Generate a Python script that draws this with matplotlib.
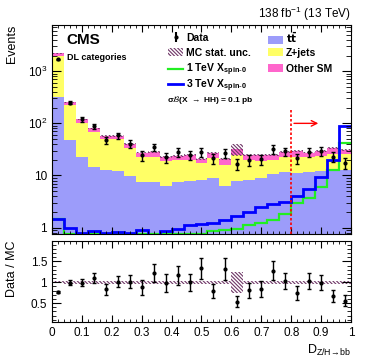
import numpy as np
import matplotlib
matplotlib.use("Agg")
import matplotlib.pyplot as plt
from matplotlib.patches import Patch
from matplotlib.lines import Line2D
from matplotlib.ticker import MultipleLocator, FixedLocator, LogLocator, NullFormatter

plt.rcParams['font.family'] = ['Liberation Sans', 'DejaVu Sans']
plt.rcParams['mathtext.default'] = 'regular'
plt.rcParams['hatch.linewidth'] = 0.8

# 25 bins of D_{Z/H->bb}
edges = np.linspace(0, 1, 26)
centers = 0.5 * (edges[:-1] + edges[1:])

ttbar = [316, 47, 23, 14.5, 13, 12, 9.6, 7.4, 7.4, 6.3, 7.4, 8.0, 8.3,
         8.8, 6.4, 7.8, 8.3, 9.0, 10.8, 11.6, 11.1, 11.6, 12.1, 12.5, 13.0]
zjets = [1634, 183, 79, 54.5, 37, 38, 24.4, 15.1, 15.6, 12.7, 12.1, 12.0, 8.7,
         13.2, 9.6, 17.2, 11.2, 10.0, 9.2, 11.4, 11.4, 10.9, 11.9, 13.5, 13.0]
other = [250, 22, 18, 11, 8, 8, 6, 5, 5.5, 4, 4.5, 5, 4,
         5, 4.5, 6.5, 5, 5.5, 5, 5, 6.5, 5, 5.5, 8, 5]
mc_unc_rel = [0.02, 0.03, 0.03, 0.035, 0.04, 0.04, 0.04, 0.04, 0.04, 0.04, 0.04, 0.04, 0.04,
              0.04, 0.04, 0.25, 0.04, 0.04, 0.04, 0.04, 0.04, 0.04, 0.04, 0.04, 0.04]

data = [1700, 250, 119, 88, 48, 58.5, 40.5, 24.2, 35, 22.5, 28, 25, 28,
        21.3, 27, 16.7, 19.8, 20.6, 32, 29, 21.5, 28.3, 29.2, 22.8, 17.4]
data_err = [41, 16, 11, 9.4, 7, 7.7, 6.4, 5, 6, 4.8, 5.3, 5, 5.3,
            4.6, 5.2, 4.1, 4.5, 4.5, 5.7, 5.4, 4.6, 5.3, 5.4, 4.8, 4.2]

sig_1tev = [1.45, 0.75, 0.75, 0.75, 0.75, 0.75, 0.75, 0.75, 0.75, 0.75, 0.75, 0.75, 0.75,
            0.87, 0.9, 0.95, 1.1, 1.2, 1.4, 1.8, 3.0, 3.7, 5.9, 12.7, 42]
sig_3tev = [1.43, 0.97, 0.78, 0.85, 0.78, 0.83, 0.8, 0.9, 0.72, 0.85, 0.95, 1.1, 1.15,
            1.25, 1.4, 1.65, 2.0, 2.45, 2.8, 3.1, 4.0, 5.6, 9.4, 20, 88]

c_tt = '#9c9cfa'
c_z = '#ffff66'
c_other = '#ff66cc'
c_hatch = '#6e3566'
c_green = '#22ee22'
c_blue = '#0000ff'
HATCH = '\\' * 9

ttbar = np.array(ttbar)
zjets = np.array(zjets)
other = np.array(other)
data = np.array(data)
data_err = np.array(data_err)
s1 = ttbar
s2 = s1 + zjets
total = s2 + other
unc = total * np.array(mc_unc_rel)

fig = plt.figure(figsize=(3.74, 3.59), dpi=100)
ax = fig.add_axes([0.139, 0.348, 0.7995, 0.583])
ax2 = fig.add_axes([0.139, 0.1022, 0.7995, 0.2265])

ax.stairs(s1, edges, baseline=1e-3, fill=True, color=c_tt, lw=0)
ax.stairs(s2, edges, baseline=s1, fill=True, color=c_z, lw=0)
ax.stairs(total, edges, baseline=s2, fill=True, color=c_other, lw=0)
ax.stairs(total + unc, edges, baseline=total - unc, fill=False, hatch=HATCH,
          edgecolor=c_hatch, lw=0)
ax.stairs(sig_1tev, edges, baseline=None, color=c_green, lw=1.6)
ax.stairs(sig_3tev, edges, baseline=None, color=c_blue, lw=2.0)
ax.errorbar(centers, data, yerr=data_err, fmt='o', color='black', ms=2,
            elinewidth=1.0, capsize=1.2, capthick=1.0)

ax.set_yscale('log')
ax.set_xlim(0, 1)
ax.set_ylim(0.75, 7800)
ax.vlines(0.8, 0.75, 200, colors='red', linestyles=(0, (1.5, 1.2)), lw=1.2)
ax.annotate('', xy=(0.9, 100), xytext=(0.8, 100),
            arrowprops=dict(arrowstyle='->', color='red', lw=1.0, mutation_scale=10))

ax.yaxis.set_major_locator(FixedLocator([1, 10, 100, 1000]))
ax.set_yticklabels(['1', '10', '$10^2$', '$10^3$'])
ax.yaxis.set_minor_locator(LogLocator(base=10, subs=np.arange(2, 10)))
ax.yaxis.set_minor_formatter(NullFormatter())
for a in (ax, ax2):
    a.xaxis.set_major_locator(MultipleLocator(0.1))
    a.xaxis.set_minor_locator(MultipleLocator(0.02))
    a.tick_params(which='both', direction='in', top=True, right=True, labelsize=8.5)
    a.tick_params(axis='x', which='major', length=5)
    a.tick_params(axis='x', which='minor', length=2.5)
ax.tick_params(axis='y', which='major', length=6.5)
ax.tick_params(axis='y', which='minor', length=3.5)
ax.tick_params(labelbottom=False)

ax.set_ylabel('Events', fontsize=9, loc='top')
ax.yaxis.set_label_coords(-0.115, 1.0)

# legend: one entry per row, placed in figure pixels
def entry(handle, label, x_px, y_px):
    leg = fig.legend([handle], [label], loc='center left',
                     bbox_to_anchor=(x_px / 374, 1 - y_px / 359),
                     bbox_transform=fig.transFigure, frameon=False,
                     prop={'weight': 'bold', 'size': 7.5}, handlelength=1.45,
                     handleheight=0.8, handletextpad=0.3, borderpad=0, borderaxespad=0)
    return leg

h_data = ax.errorbar([], [], yerr=[], fmt='o', color='black', ms=2, capsize=1.5)
entry(h_data, 'Data', 168, 38)
entry(Patch(facecolor='none', edgecolor=c_hatch, hatch=HATCH, lw=0), 'MC stat. unc.', 168, 53)
entry(Line2D([], [], color=c_green, lw=1.6), r'1 TeV X$_{spin\text{-}0}$', 168, 70)
entry(Line2D([], [], color=c_blue, lw=2.0), r'3 TeV X$_{spin\text{-}0}$', 168, 85.5)
entry(Patch(facecolor=c_tt, lw=0), r'$\mathbf{t\bar{t}}$', 268, 38)
entry(Patch(facecolor=c_z, lw=0), 'Z+jets', 268, 53)
entry(Patch(facecolor=c_other, lw=0), 'Other SM', 268, 69)

fig.text(167 / 374, 1 - 100 / 359, r'$\sigma\mathcal{B}$(X $\rightarrow$ HH) = 0.1 pb',
         fontsize=6, fontweight='bold', va='center', ha='left')
fig.text(66 / 374, 1 - 40 / 359, 'CMS', fontsize=11, fontweight='bold', va='center')
fig.text(67 / 374, 1 - 57 / 359, 'DL categories', fontsize=6.5, fontweight='bold', va='center')
fig.text(351 / 374, 1 - 14 / 359, r'138 fb$^{-1}$ (13 TeV)', fontsize=8.5, ha='right', va='center')

# ratio panel
ax2.stairs(1 + np.array(mc_unc_rel), edges, baseline=1 - np.array(mc_unc_rel), fill=False,
           hatch=HATCH, edgecolor=c_hatch, lw=0)
ax2.errorbar(centers, data / total, yerr=data_err / total, fmt='o', color='black', ms=2,
             elinewidth=1.0, capsize=1.2, capthick=1.0)
ax2.set_xlim(0, 1)
ax2.set_ylim(0.04, 1.99)
ax2.yaxis.set_major_locator(FixedLocator([0.5, 1, 1.5]))
ax2.set_yticklabels(['0.5', '1', '1.5'])
ax2.yaxis.set_minor_locator(MultipleLocator(0.1))
ax2.tick_params(axis='y', which='major', length=6.5)
ax2.tick_params(axis='y', which='minor', length=3)
ax2.set_xticks(np.arange(0, 1.01, 0.1))
ax2.set_xticklabels(['0', '0.1', '0.2', '0.3', '0.4', '0.5', '0.6', '0.7', '0.8', '0.9', '1'])
ax2.set_ylabel('Data / MC', fontsize=9, loc='top')
ax2.yaxis.set_label_coords(-0.115, 1.0)
ax2.set_xlabel(r'D$_{Z/H\!\rightarrow\!bb}$', fontsize=9, loc='right')
ax2.xaxis.set_label_coords(1.0, -0.25)

fig.savefig('out.png', dpi=100)
